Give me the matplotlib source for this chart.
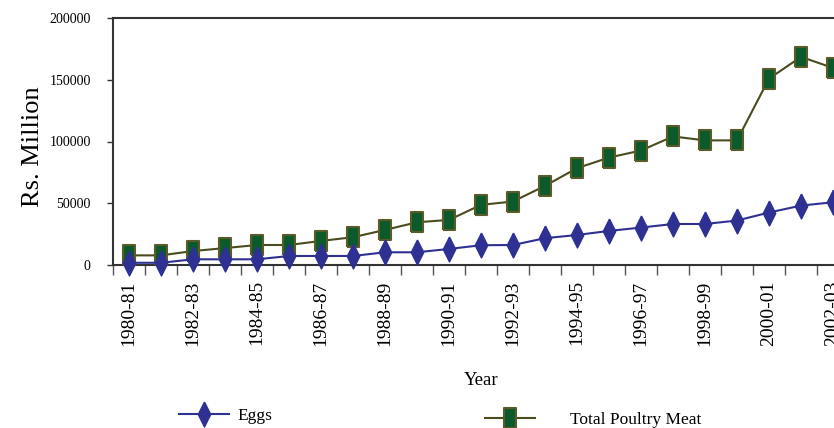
import matplotlib.pyplot as plt
from matplotlib.lines import Line2D

years = ['1980-81', '1981-82', '1982-83', '1983-84', '1984-85', '1985-86',
         '1986-87', '1987-88', '1988-89', '1989-90', '1990-91', '1991-92',
         '1992-93', '1993-94', '1994-95', '1995-96', '1996-97', '1997-98',
         '1998-99', '1999-00', '2000-01', '2001-02', '2002-03']
eggs = [1800, 1800, 4600, 4600, 4600, 7300, 7300, 7300, 10300, 10300, 13000,
        16000, 16200, 21700, 24300, 27600, 30300, 33200, 33200, 36000,
        42500, 48100, 50800]
poultry = [7800, 7800, 11300, 13700, 16200, 16200, 19500, 22500, 28400,
           34600, 36500, 48700, 51400, 64100, 78400, 87000, 92700, 104100,
           100900, 100900, 150900, 168500, 159600]
yticks = [0, 50000, 100000, 150000, 200000]

plt.rcParams['font.family'] = ['Liberation Serif', 'DejaVu Serif']

diamond = [(0, 1), (0.5, 0), (0, -1), (-0.5, 0), (0, 1)]
rect = [(-0.3, -0.5), (0.3, -0.5), (0.3, 0.5), (-0.3, 0.5), (-0.3, -0.5)]
blue = '#2e3192'
olive = '#4b4b1e'
green = '#0b5a2c'

fig = plt.figure(figsize=(8.34, 4.28), dpi=100)
ax = fig.add_axes([113 / 834, 1 - 265 / 428, 736 / 834, 247 / 428])

x = list(range(len(years)))
ax.plot(x, poultry, color=olive, lw=1.5, marker=rect, ms=14,
        mfc=green, mec='#5a5a2a', mew=1.5, zorder=3, clip_on=False)
ax.plot(x, eggs, color=blue, lw=1.5, marker=diamond, ms=18,
        mfc=blue, mec=blue, zorder=4, clip_on=False)

ax.set_xlim(-0.5, len(years) - 0.5)
ax.set_ylim(0, 200000)
ax.set_xticks(x[::2])
ax.set_xticklabels(years[::2], rotation=90, fontsize=14)
ax.set_xticks([i - 0.5 for i in range(len(years) + 1)], minor=True)
ax.tick_params(axis='x', which='major', length=0, pad=11)
ax.tick_params(axis='x', which='minor', length=7, width=1, color='#555555')
ax.set_yticks(yticks)
ax.set_yticklabels([str(v) for v in yticks], fontsize=10)
ax.tick_params(axis='y', length=4, width=1, pad=12, color='#333333')

for s in ['left', 'top', 'bottom']:
    ax.spines[s].set_color('#333333')
    ax.spines[s].set_linewidth(1.5)
ax.spines['right'].set_visible(False)

ax.set_xlabel('Year', fontsize=13.5, labelpad=19)
ax.set_ylabel('Rs. Million', fontsize=19)
ax.yaxis.set_label_coords(-0.094, 0.48)

h_eggs = Line2D([], [], color=blue, lw=1.5, marker=diamond, ms=18, mfc=blue, mec=blue)
h_meat = Line2D([], [], color=olive, lw=1.5, marker=rect, ms=14,
                mfc=green, mec='#5a5a2a', mew=1.5)
fig.legend(handles=[h_eggs], labels=['Eggs'], loc='center left',
           bbox_to_anchor=(163 / 834, 1 - 416 / 428), frameon=False,
           fontsize=12.5, handlelength=2.9, handletextpad=0.5)
fig.legend(handles=[h_meat], labels=['Total Poultry Meat'], loc='center left',
           bbox_to_anchor=(469 / 834, 1 - 420 / 428), frameon=False,
           fontsize=12.5, handlelength=2.9, handletextpad=2.0)

plt.savefig('out.png', dpi=100)
